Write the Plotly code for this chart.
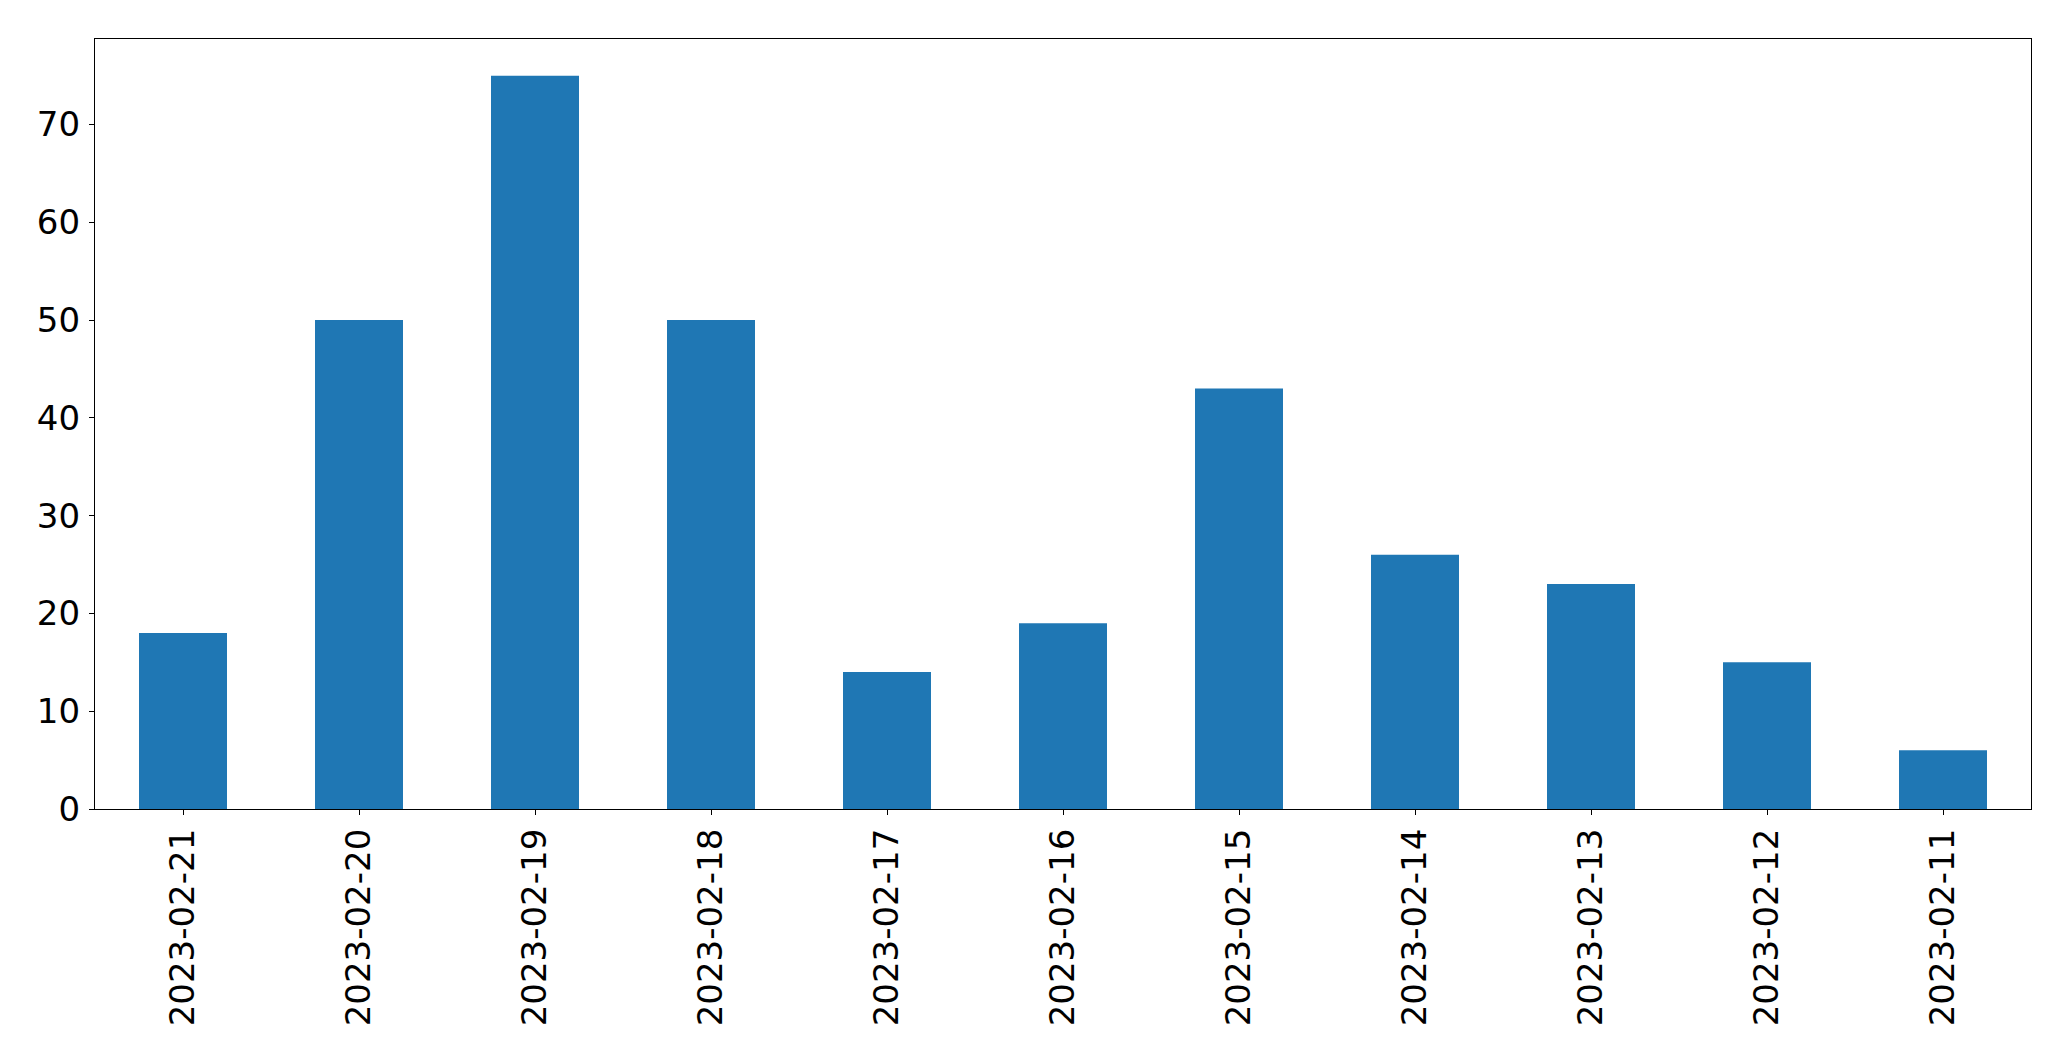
import plotly.graph_objects as go

dates = ["2023-02-21", "2023-02-20", "2023-02-19", "2023-02-18", "2023-02-17",
         "2023-02-16", "2023-02-15", "2023-02-14", "2023-02-13", "2023-02-12", "2023-02-11"]
counts = [18, 50, 75, 50, 14, 19, 43, 26, 23, 15, 6]

fig = go.Figure(go.Bar(x=dates, y=counts, marker=dict(color="#1f77b4", line=dict(width=0)), width=0.5))

axis_common = dict(showline=True, linecolor="black", linewidth=1.3, mirror=True,
                   ticks="outside", ticklen=5, tickwidth=1.3, tickcolor="black",
                   showgrid=False, zeroline=False,
                   tickfont=dict(family="DejaVu Sans", size=34, color="black"))

# page body has an 8px default margin, so the figure is shrunk by that amount
fig.update_layout(
    width=2063, height=1053,
    margin=dict(l=86.5, r=40, t=31, b=252, autoexpand=False),
    plot_bgcolor="white", paper_bgcolor="white",
    showlegend=False,
    xaxis=dict(type="category", range=[-0.5, 10.5], tickangle=-90, ticklabelstandoff=0, **axis_common),
    yaxis=dict(range=[0, 78.75], tickvals=[0, 10, 20, 30, 40, 50, 60, 70], ticklabelstandoff=2, **axis_common),
)

fig.write_html("out.html")
